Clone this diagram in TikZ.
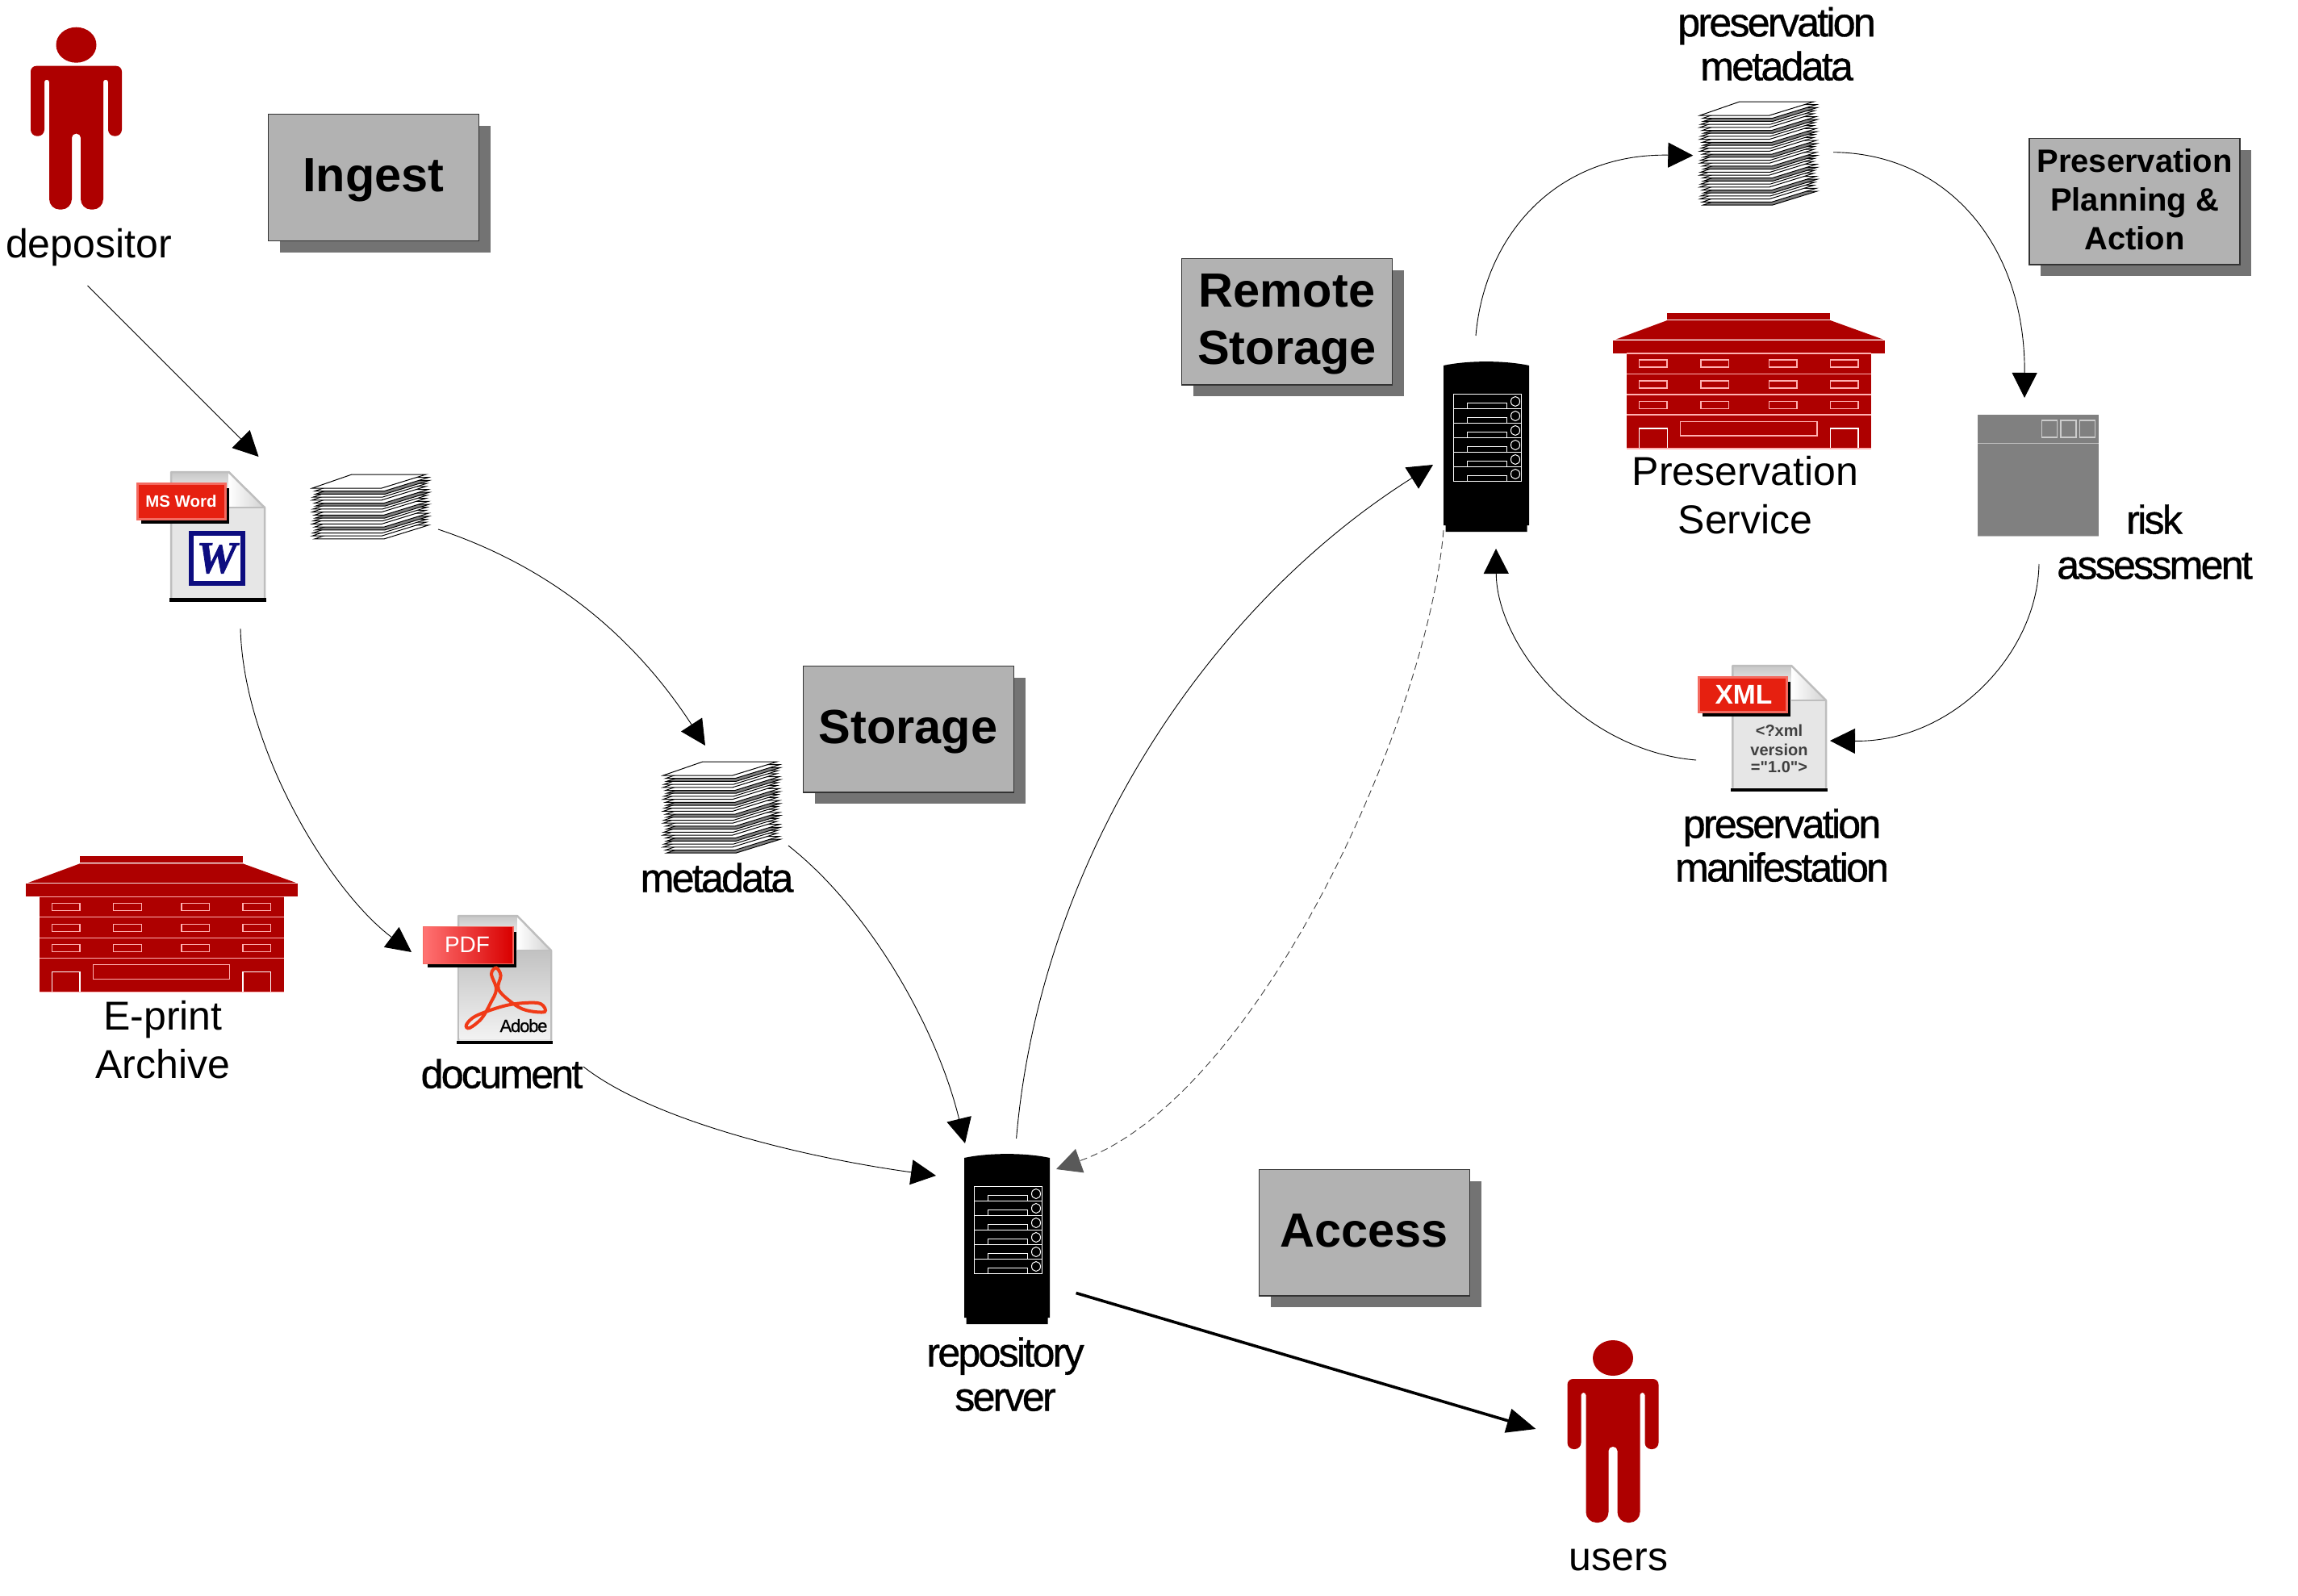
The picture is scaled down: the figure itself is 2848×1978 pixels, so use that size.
\documentclass[tikz,border=0pt]{standalone}
\usepackage{fontspec}
\setmainfont{Liberation Sans}
\newfontfamily\tightfont[LetterSpace=-5.4,FakeBold=0.8]{Liberation Sans}
\newfontfamily\logofont[FakeBold=1.5]{Liberation Serif}
\newfontfamily\xmlfont{Liberation Sans}
\usetikzlibrary{arrows.meta,shadows,calc}
\definecolor{personred}{HTML}{AE0000}
\definecolor{labelred}{HTML}{E62010}
\definecolor{labeledge}{HTML}{F46A60}
\definecolor{boxfill}{HTML}{B2B2B2}
\definecolor{boxshadow}{HTML}{737373}
\definecolor{pageedge}{HTML}{BEBEBE}
\definecolor{pagefill}{HTML}{E6E6E6}
\definecolor{wordblue}{HTML}{0D0D80}
\definecolor{adobered}{HTML}{F03A17}
\definecolor{windowgrey}{HTML}{808080}
\definecolor{buildline}{HTML}{FFB0B0}
\tikzset{
  x=1pt,y=-1pt,
  stagebox/.style={draw=black!80,line width=1.1pt,fill=boxfill,inner sep=0pt,
    minimum width=261pt,minimum height=156.5pt,
    drop shadow={shadow xshift=14pt,shadow yshift=-14.5pt,opacity=1,fill=boxshadow}},
  stagetext/.style={anchor=base,inner sep=0pt,font=\bfseries\fontsize{59.5}{59.5}\selectfont},
  smalltext/.style={anchor=base,inner sep=0pt,font=\bfseries\fontsize{40}{40}\selectfont},
  plainlabel/.style={anchor=base,inner sep=0pt,yshift=-1.5pt,font=\fontsize{50}{50}\selectfont},
  tightlabel/.style={anchor=base,inner sep=0pt,yshift=-1.5pt,font=\tightfont\fontsize{50}{50}\selectfont},
  xmlline/.style={anchor=base,inner sep=0pt,text=black!75,font=\xmlfont\bfseries\fontsize{20}{20}\selectfont},
  flow/.style={line width=0.9pt,draw=black,-{Triangle[length=31pt,width=31pt,fill=black,color=black]}},
  flowdash/.style={line width=0.9pt,draw=black!75,dash pattern=on 9pt off 5pt,
    -{Triangle[length=31pt,width=31pt,fill=black!65,color=black!65]}},
  flowbold/.style={line width=3.6pt,draw=black,-{Triangle[length=36pt,width=30pt,fill=black]}},
  pics/person/.style={code={
    \fill[personred] (0,0) ellipse [x radius=25,y radius=22];
    \fill[personred,rounded corners=7pt] (-56.5,26) -- (56.5,26)
      [rounded corners=8pt] -- (56.5,113) -- (39.5,113)
      [rounded corners=3pt] -- (39.5,43) -- (33.5,43)
      [rounded corners=13pt] -- (33.5,204) -- (5.5,204)
      [rounded corners=5pt] -- (5.5,110) -- (-5.5,110)
      [rounded corners=13pt] -- (-5.5,204) -- (-33.5,204)
      [rounded corners=3pt] -- (-33.5,43) -- (-39.5,43)
      [rounded corners=8pt] -- (-39.5,113) -- (-56.5,113)
      [rounded corners=7pt] -- cycle;
  }},
  pics/building/.style={code={
    \fill[personred] (67.3,0) rectangle (269.3,8);
    \fill[personred] (67.3,9) -- (269.3,9) -- (335,32.7) -- (3.3,32.7) -- cycle;
    \fill[personred] (0,33.7) rectangle (337,49.7);
    \fill[personred] (17,51) rectangle (320,168);
    \foreach \ly in {50.2,75.4,101,126} \draw[buildline,line width=1.5pt] (17,\ly) -- (320,\ly);
    \foreach \wx in {32.6,109,193.3,269.3}
      \foreach \wy in {58,84,109.4}
        \draw[buildline,line width=1.5pt] (\wx,\wy) rectangle ++(34.6,9);
    \draw[buildline,line width=1.5pt] (83.6,134.4) rectangle (253,152);
    \draw[white,line width=1.5pt] (32.6,168) -- (32.6,143) -- (67.3,143) -- (67.3,168);
    \draw[white,line width=1.5pt] (269.3,168) -- (269.3,143) -- (304,143) -- (304,168);
    \draw[buildline,line width=1.2pt] (17,168) -- (320,168);
  }},
  pics/server/.style={code={
    \fill[black] (0,5) .. controls (30,-1.5) and (76,-1.5) .. (106,5) -- (106,203) -- (103.5,203) -- (103.5,211) -- (2.5,211) -- (2.5,203) -- (0,203) -- cycle;
    \foreach \r in {0,...,5} {
      \draw[white,line width=1pt] (12,40.5+18*\r) rectangle (96,58.5+18*\r);
      \draw[white,line width=1pt] (29.5,58.5+18*\r) -- (29.5,51.5+18*\r) -- (78,51.5+18*\r) -- (78,58.5+18*\r);
      \draw[white,line width=1pt] (89,49.5+18*\r) ellipse [x radius=5.5,y radius=6];
    }
  }},
  pics/sheetstack/.style={code={
    \foreach \j in {0,...,#1} {
      \pgfmathtruncatemacro\i{#1-\j}
      \pgfmathtruncatemacro\m{mod(\i,4)}
      \pgfmathparse{{0,3,4,1}[\m]}\let\dx\pgfmathresult
      \pgfmathsetmacro\yy{\i*3.7}
      \ifnum\m=2 \def\sheetcol{windowgrey}\else\def\sheetcol{white}\fi
      \filldraw[fill=\sheetcol,draw=black,line width=1pt]
        (49+\dx,\yy) -- (141+\dx,\yy) -- (86+\dx,\yy+17) -- (0+\dx,\yy+17) -- cycle;
    }
  }},
}
% x1 y1 x2 y2 foldx foldy
\newcommand{\filepage}[6]{%
  \fill[pagefill] (#1,#2) -- (#5,#2) -- (#3,#6) -- (#3,#4) -- (#1,#4) -- cycle;
  \shade[top color=black!22,bottom color=pagefill] (#1,#2) rectangle (#5,#2+20);
  \shade[left color=white,right color=black!18] (#5,#2) -- (#3,#6) -- (#5,#6) -- cycle;
  \draw[pageedge,line width=2.5pt,line join=round] (#1,#4) -- (#1,#2) -- (#5,#2) -- (#3,#6) -- (#3,#4);
  \draw[pageedge,line width=2.5pt] (#5,#6) -- (#3,#6);
  \fill[black] (#1-2,#4) rectangle (#3+2,#4+4.5);
}
% x1 y1 x2 y2
\newcommand{\filetag}[4]{%
  \fill[black] (#1+4.5,#2+5.5) rectangle (#3+4.5,#4+5.5);
  \filldraw[fill=labelred,draw=labeledge,line width=3pt] (#1,#2) rectangle (#3,#4);
}
\begin{document}
\begin{tikzpicture}
\useasboundingbox (0,0) rectangle (2848,1978);
% stage boxes
\node[stagebox] (ingest) at (463.3,219.8) {};
\node[stagetext] (ingesttext) at (463,237) {Ingest};
\node[stagebox] (storage) at (1126.2,903.7) {};
\node[stagetext] (storagetext) at (1125.5,921) {Storage};
\node[stagebox] (remote) at (1595,398.7) {};
\node[stagetext] (remotetext1) at (1595,380) {Remote};
\node[stagetext] (remotetext2) at (1595,451.7) {Storage};
\node[stagebox] (access) at (1691.3,1527.7) {};
\node[stagetext] (accesstext) at (1690.5,1545) {Access};
\node[stagebox] (planning) at (2645.5,249.7) {};
\node[smalltext] (planningtext1) at (2645.5,213) {Preservation};
\node[smalltext] (planningtext2) at (2645.5,261) {Planning \&};
\node[smalltext] (planningtext3) at (2645.5,309) {Action};
% people
\pic at (94.5,55.7) {person};
\pic at (1999,1683) {person};
\node[plainlabel] (depositorlabel) at (110,318) {depositor};
\node[plainlabel] (userslabel) at (2006,1945) {users};
% buildings
\pic at (31.7,1061.3) {building};
\pic at (1999,388) {building};
\node[plainlabel] (eprint) at (202,1275) {E-print};
\node[plainlabel] (archive) at (202,1335) {Archive};
\node[plainlabel] (presservice1) at (2163,600) {Preservation};
\node[plainlabel] (presservice2) at (2163,660) {Service};
% servers
\pic at (1195,1430) {server};
\pic at (1789,448) {server};
\node[tightlabel] (repo1) at (1246,1692) {repository};
\node[tightlabel] (repo2) at (1246,1747) {server};
% sheet stacks
\pic at (387,588) {sheetstack=17};
\pic at (822,944) {sheetstack=26};
\pic at (2107,126) {sheetstack=30};
\node[tightlabel] (metalabel) at (888.5,1104) {metadata};
\node[tightlabel] (presmeta1) at (2202,43.6) {preservation};
\node[tightlabel] (presmeta2) at (2202,98) {metadata};
% Word file
\filepage{212}{585}{328}{741}{283.5}{629}
\filetag{170}{599.5}{279}{643}
\node[text=white,inner sep=0pt,font=\bfseries\fontsize{20.4}{20.4}\selectfont] (wordtag) at (224.5,621) {MS Word};
\draw[wordblue,line width=6pt,fill=white] (236.5,661) rectangle (300.5,723);
\node[text=wordblue,inner sep=0pt,font=\logofont\bfseries\itshape\fontsize{56}{56}\selectfont] (wordlogo) at (268.5,692) {W};
% PDF file
\filepage{568}{1135}{683}{1289.5}{641}{1178}
\shade[top color=black!24,bottom color=black!5] (569.5,1178) rectangle (681.5,1287);
\filetag{525}{1149}{635}{1193}
\shade[left color=red!55!white,right color=red!85!black] (525,1149) rectangle (635,1193);
\node[text=white,inner sep=0pt,font=\fontsize{28}{28}\selectfont] (pdftag) at (579,1171) {PDF};
\draw[adobered,line width=4pt] plot[smooth cycle,tension=0.6] coordinates
  {(615,1226) (609,1207) (615,1199.5) (620.6,1209) (617.8,1226) (635,1243) (652,1252) (675,1254) (670,1244) (650,1243) (623.5,1247) (590,1259) (578,1270) (582,1274) (597,1262) (608,1243)};
\node[anchor=base,inner sep=0pt,font=\tightfont\fontsize{22}{22}\selectfont] (adobelabel) at (649,1279) {Adobe};
\node[tightlabel] (doclabel) at (622,1347) {document};
% XML file
\filepage{2147.3}{825}{2263}{976.7}{2220}{868}
\filetag{2105}{839}{2214}{882}
\node[text=white,inner sep=0pt,font=\bfseries\fontsize{33.6}{33.6}\selectfont] (xmltag) at (2161,860.7) {XML};
\node[xmlline] (xml1) at (2205,912.7) {<?xml};
\node[xmlline] (xml2) at (2205,936) {version};
\node[xmlline] (xml3) at (2205,957) {="1.0">};
\node[tightlabel] (manif1) at (2208.5,1037) {preservation};
\node[tightlabel] (manif2) at (2208.5,1091) {manifestation};
% risk window
\fill[windowgrey] (2450.7,514) rectangle (2601,664.7);
\draw[black!25,line width=1.5pt] (2450.7,549.6) -- (2601,549.6);
\draw[black!25,line width=1.5pt] (2450.7,664.7) -- (2601,664.7);
\foreach \qx in {2530.4,2554,2577.6}
  \draw[black!20,line width=1.5pt] (\qx,521) rectangle ++(19,21);
\node[tightlabel] (risk1) at (2670,660) {risk};
\node[tightlabel] (risk2) at (2670.5,716) {assessment};
% connector ends
\coordinate (depOut) at (108.5,354);
\coordinate (wordIn) at (320.5,566);
\coordinate (wordOut) at (298,779);
\coordinate (pdfIn) at (510,1180);
\coordinate (stackOut) at (543,656);
\coordinate (metaIn) at (874,924);
\coordinate (metaOut) at (977,1048);
\coordinate (repoInMeta) at (1196,1417);
\coordinate (docOut) at (723,1322);
\coordinate (repoInDoc) at (1160,1457);
\coordinate (repoOutRemote) at (1259.6,1410.8);
\coordinate (remoteIn) at (1776,576);
\coordinate (remoteOutDash) at (1789,657);
\coordinate (repoInDash) at (1309,1449);
\coordinate (repoOutUsers) at (1333.6,1602.5);
\coordinate (usersIn) at (1903.5,1771);
\coordinate (remoteOutMeta) at (1829,416);
\coordinate (presMetaIn) at (2098.3,192.7);
\coordinate (presMetaOut) at (2272,188.7);
\coordinate (riskIn) at (2509,493);
\coordinate (riskOut) at (2527,699);
\coordinate (xmlIn) at (2268,918);
\coordinate (xmlOut) at (2102,942);
\coordinate (remoteInXml) at (1854,680);
% connectors
\draw[flow] (depOut) -- (wordIn);
\draw[flow] (wordOut) .. controls (302,930) and (410,1105) .. (pdfIn);
\draw[flow] (stackOut) .. controls (690,705) and (790,795) .. (metaIn);
\draw[flow] (metaOut) .. controls (1075,1125) and (1160,1270) .. (repoInMeta);
\draw[flow] (docOut) .. controls (810,1390) and (1000,1435) .. (repoInDoc);
\draw[flow] (repoOutRemote) .. controls (1290,1060) and (1500,750) .. (remoteIn);
\draw[flowdash] (remoteOutDash) .. controls (1770,890) and (1560,1360) .. (repoInDash);
\draw[flowbold] (repoOutUsers) -- (usersIn);
\draw[flow] (remoteOutMeta) .. controls (1840,290) and (1930,190) .. (presMetaIn);
\draw[flow] (presMetaOut) .. controls (2410,190) and (2510,300) .. (riskIn);
\draw[flow] (riskOut) .. controls (2525,810) and (2420,920) .. (xmlIn);
\draw[flow] (xmlOut) .. controls (1960,930) and (1855,800) .. (remoteInXml);
\end{tikzpicture}
\end{document}
